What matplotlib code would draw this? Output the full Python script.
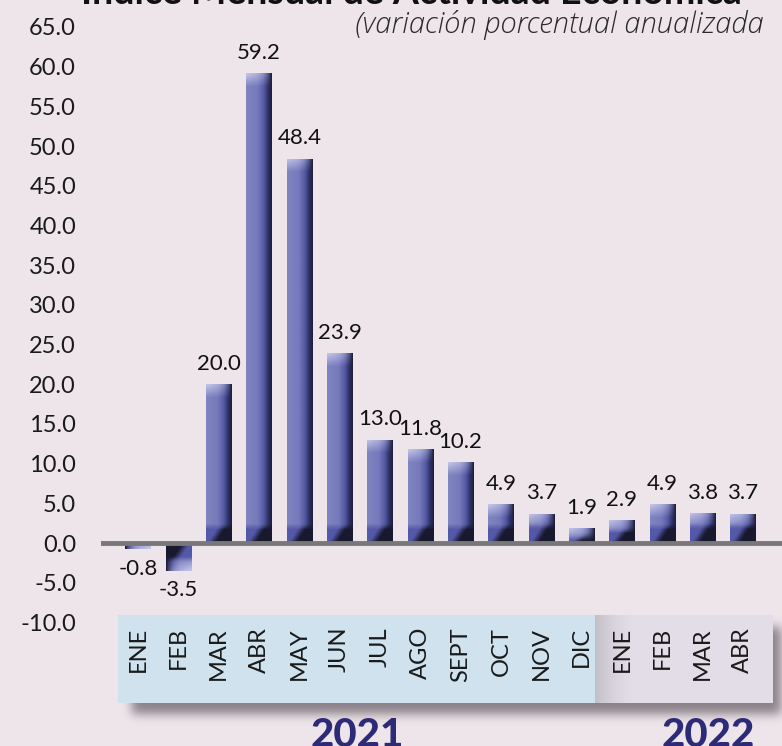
import numpy as np
import matplotlib.pyplot as plt
from matplotlib.patches import Rectangle

# --- data ---
months = ["ENE", "FEB", "MAR", "ABR", "MAY", "JUN", "JUL", "AGO", "SEPT",
          "OCT", "NOV", "DIC", "ENE", "FEB", "MAR", "ABR"]
values = [-0.8, -3.5, 20.0, 59.2, 48.4, 23.9, 13.0, 11.8, 10.2,
          4.9, 3.7, 1.9, 2.9, 4.9, 3.8, 3.7]
years = ["2021", "2022"]
yticks = np.arange(-10, 66, 5)

title = "Índice Mensual de Actividad Económica"
subtitle = "(variación porcentual anualizada"

bg = "#ede5ea"
W, H = 782, 746
plt.rcParams["font.family"] = ["Lato", "DejaVu Sans"]

fig = plt.figure(figsize=(W / 100, H / 100), dpi=100, facecolor=bg)

# background axes in pixel coordinates (boxes, shadow)
bgax = fig.add_axes([0, 0, 1, 1], zorder=0)
bgax.set_xlim(0, W)
bgax.set_ylim(H, 0)
bgax.axis("off")
bgax.set_facecolor(bg)


def blur(a, sigma):
    k = np.arange(-3 * sigma, 3 * sigma + 1)
    k = np.exp(-k**2 / (2.0 * sigma**2))
    k /= k.sum()
    a = np.apply_along_axis(lambda r: np.convolve(r, k, mode="same"), 0, a)
    a = np.apply_along_axis(lambda r: np.convolve(r, k, mode="same"), 1, a)
    return a


# drop shadow under the month boxes
mask = np.zeros((H, W))
mask[627:714, 132:781] = 1.0
mask = blur(mask, 5)
shadow = np.zeros((H, W, 4))
shadow[..., 0] = 0.45
shadow[..., 1] = 0.41
shadow[..., 2] = 0.44
shadow[..., 3] = mask * 0.8
bgax.imshow(shadow, extent=(0, W, H, 0), zorder=1, interpolation="bilinear")

bgax.add_patch(Rectangle((118, 615), 477, 88, color="#cfe2ee", zorder=2, lw=0))
bgax.add_patch(Rectangle((595, 615), 178, 88, color="#e3dde8", zorder=2, lw=0))
# soft shade at the left edge of the 2022 box
edge = np.zeros((1, 40, 4))
edge[..., :3] = 0.45
edge[0, :, 3] = np.linspace(0.45, 0, 40) ** 1.6
bgax.imshow(edge, extent=(595, 635, 703, 615), zorder=3, aspect="auto",
            interpolation="bilinear")

# --- main axes ---
ax = fig.add_axes([101 / W, 0, 681 / W, 1], zorder=1)
ax.patch.set_visible(False)

x = np.arange(len(values))
px_per_unit = 516 / 65.0
bar_w = 0.62
bars = ax.bar(x, values, width=bar_w, color="none", lw=0, zorder=2)


def stops(s, pts):
    out = np.zeros(s.shape + (3,))
    ps = [p[0] for p in pts]
    for i in range(3):
        out[..., i] = np.interp(s, ps, [p[1][i] for p in pts])
    return out


def bar_image(hpx, wpx=25):
    hpx = max(int(round(hpx)), 2)
    r, c = np.mgrid[0:hpx, 0:wpx]
    s = (c + 0.5) / wpx
    base = stops(s, [(0.0, (128, 132, 192)), (0.45, (118, 122, 186)),
                     (0.68, (86, 90, 166)), (0.85, (48, 50, 104)),
                     (1.0, (28, 29, 54))])
    zone = min(20.0, 0.7 * hpx)
    b = np.clip((r - (hpx - zone)) / zone, 0, 1)
    f = np.clip((r - (hpx - zone)) / 6.0, 0, 1)
    dark = np.clip((s - (0.55 - 0.5 * b)) / 0.3, 0, 1)[..., None]
    zc = np.array([84, 88, 168]) * (1 - dark) + np.array([24, 24, 46]) * dark
    img = base * (1 - f[..., None]) + zc * f[..., None]
    hl = np.clip(1 - r / 13.0, 0, 1) * np.clip(1 - s * 1.05, 0, 1) ** 0.6
    img = img * (1 - hl[..., None]) + np.array([196, 198, 232]) * hl[..., None]
    return img / 255.0


for b, v in zip(bars, values):
    img = bar_image(abs(v) * px_per_unit)
    if v < 0:
        img = img[::-1, ::-1]
    x0 = b.get_x()
    y0, y1 = min(0, v), max(0, v)
    im = ax.imshow(img, extent=(x0, x0 + bar_w, y0, y1), aspect="auto",
                   zorder=2, interpolation="bilinear", origin="upper")
    im.set_clip_path(b)

ax.axhline(0, color="#787878", lw=3.5, zorder=3)

for xi, v in zip(x, values):
    if v >= 0:
        ax.text(xi, v + 1.3, f"{v:.1f}", ha="center", va="bottom",
                fontsize=16, color="#111111", zorder=4)
    else:
        ax.text(xi, v - 1.2, f"{v:.1f}", ha="center", va="top",
                fontsize=16, color="#111111", zorder=4)

ax.set_xlim(-0.917, 15.97)
ax.set_ylim(-25.57, 68.4)
ax.set_yticks(yticks)
ax.set_yticklabels([f"{t:.1f}" for t in yticks], fontsize=17, color="#1a1a1a")
ax.tick_params(axis="y", length=0, pad=18)
ax.set_xticks([])
for sp in ax.spines.values():
    sp.set_visible(False)

# month labels inside the boxes
tr = ax.get_xaxis_transform()
for xi, m in zip(x, months):
    ax.text(xi, 1 - 627 / H, m, rotation=90, ha="center", va="top",
            fontsize=17, color="#1a1a1a", transform=tr, zorder=4)

fig.text(357 / W, 1 - 717 / H, years[0], ha="center", va="top", fontsize=29,
         fontweight="black", color="#2d2a78")
fig.text(708 / W, 1 - 717 / H, years[1], ha="center", va="top", fontsize=29,
         fontweight="black", color="#2d2a78")

fig.text(411 / W, 1 - 4 / H, title, ha="center", va="baseline", fontsize=27,
         fontweight="bold", color="#111111")
fig.text(764 / W, 1 - 33 / H, subtitle, ha="right", va="baseline",
         fontsize=21, style="italic", fontweight="light",
         family=["Open Sans", "DejaVu Sans"], color="#2a2a2a")

fig.savefig("out.png", dpi=100, facecolor=bg)
